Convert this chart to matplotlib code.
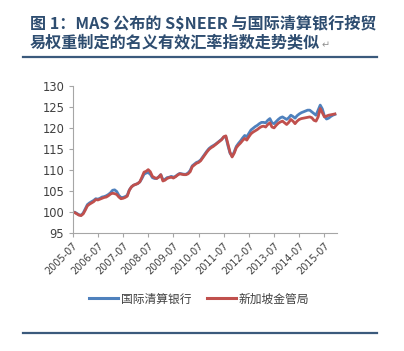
import matplotlib
matplotlib.use("Agg")
import matplotlib.pyplot as plt
from matplotlib.lines import Line2D
import numpy as np

plt.rcParams['font.family'] = ['Noto Sans CJK SC', 'DejaVu Sans']

tick_labels = ["2005-07", "2006-07", "2007-07", "2008-07", "2009-07", "2010-07",
               "2011-07", "2012-07", "2013-07", "2014-07", "2015-07"]

bis = [100.0, 100.0, 99.7, 99.4, 99.3, 99.8, 100.8, 101.8, 102.2, 102.5, 102.8, 103.2,
       103.1, 103.3, 103.6, 103.7, 103.9, 104.2, 104.6, 105.2, 105.3, 104.9, 104.0, 103.5,
       103.5, 103.7, 104.0, 105.3, 106.0, 106.4, 106.6, 106.8, 107.2, 108.0, 109.0, 109.3,
       109.4, 109.0, 108.2, 108.0, 108.0, 108.4, 108.9, 107.7, 107.8, 108.2, 108.3, 108.5,
       108.3, 108.5, 108.9, 109.2, 109.1, 109.0, 109.0, 109.3, 109.9, 111.0, 111.4, 111.8,
       112.0, 112.4, 113.1, 113.8, 114.5, 115.1, 115.5, 115.8, 116.1, 116.5, 116.9, 117.3,
       117.8, 117.9, 115.8, 114.0, 113.3, 114.3, 115.6, 116.3, 116.9, 117.6, 118.2, 117.9,
       118.7, 119.5, 119.9, 120.3, 120.6, 121.0, 121.3, 121.3, 121.2, 121.8, 122.2, 121.2,
       121.0, 121.5, 122.0, 122.4, 122.6, 122.3, 122.0, 122.4, 123.0, 122.7, 122.3, 122.9,
       123.3, 123.6, 123.8, 124.0, 124.2, 124.2, 123.8, 123.4, 123.0, 124.2, 125.4, 124.5,
       122.8, 122.1, 122.3, 122.7, 123.0, 123.2]

mas = [100.0, 99.9, 99.6, 99.3, 99.2, 99.6, 100.5, 101.5, 101.9, 102.2, 102.5, 103.0,
       102.9, 103.1, 103.3, 103.5, 103.6, 103.9, 104.3, 104.5, 104.4, 104.2, 103.6, 103.2,
       103.3, 103.5, 103.8, 105.2, 106.0, 106.4, 106.6, 106.8, 107.2, 108.3, 109.5, 109.7,
       110.1, 109.6, 108.5, 108.2, 108.0, 108.3, 108.9, 107.4, 107.6, 108.0, 108.2, 108.3,
       108.1, 108.4, 108.8, 109.1, 109.0, 108.9, 108.9, 109.1, 109.6, 110.8, 111.2, 111.6,
       111.8, 112.2, 112.9, 113.6, 114.3, 114.9, 115.3, 115.6, 116.0, 116.4, 116.8, 117.2,
       117.9, 118.1, 116.2, 114.2, 113.1, 114.0, 115.3, 115.9, 116.4, 117.0, 117.5, 117.1,
       117.9, 118.6, 119.0, 119.3, 119.6, 120.0, 120.3, 120.4, 120.2, 120.8, 121.2, 120.2,
       120.0, 120.6, 121.1, 121.4, 121.6, 121.2, 120.8, 121.3, 122.0, 121.6, 121.0, 121.6,
       122.0, 122.2, 122.3, 122.4, 122.5, 122.6, 122.4, 121.8, 121.6, 122.6, 124.6, 123.6,
       122.6, 122.8, 123.0, 123.1, 123.2, 123.3]

series_names = ["国际清算银行", "新加坡金管局"]
title_line1 = "图 1：MAS 公布的 S$NEER 与国际清算银行按贸"
title_line2 = "易权重制定的名义有效汇率指数走势类似"

W, H = 404, 351
fig = plt.figure(figsize=(W / 100, H / 100), dpi=100)
fig.patch.set_facecolor("white")

ax = fig.add_axes([72.7 / W, 1 - 233.3 / H, (337 - 72.7) / W, (233.3 - 85.7) / H])
x = np.arange(len(bis))
c_blue = "#4f81bd"
c_red = "#c0504d"
ax.plot(x, bis, color=c_blue, lw=2.0, solid_joinstyle="round")
ax.plot(x, mas, color=c_red, lw=2.0, solid_joinstyle="round")

ax.set_xlim(0, 126)
ax.set_ylim(95, 130)
ax.set_yticks(np.arange(95, 131, 5))
ax.set_xticks(np.arange(0, 121, 12))
ax.set_xticklabels(tick_labels, rotation=45, ha="right", rotation_mode="anchor",
                   fontsize=7, color="#404040", family=["DejaVu Sans"])
for lab in ax.get_yticklabels():
    lab.set_fontsize(8.3)
    lab.set_color("#404040")
    lab.set_family(["DejaVu Sans"])
for s in ["top", "right"]:
    ax.spines[s].set_visible(False)
for s in ["left", "bottom"]:
    ax.spines[s].set_color("#a6a6a6")
    ax.spines[s].set_linewidth(0.8)
ax.tick_params(axis="both", direction="out", length=3, color="#a6a6a6", width=0.8)
ax.tick_params(axis="y", pad=3)
ax.tick_params(axis="x", pad=2)

handles = [Line2D([0], [0], color=c_blue, lw=2.2), Line2D([0], [0], color=c_red, lw=2.2)]
fig.legend(handles, series_names, loc="center", bbox_to_anchor=(199 / W, 1 - 299 / H),
           ncol=2, frameon=False, fontsize=8.5, handlelength=2.5, handletextpad=0.2,
           columnspacing=1.3, labelcolor="#404040")

title_color = "#2e4d70"
fig.text(30 / W, 1 - 24 / H, title_line1, fontsize=11.6, fontweight="bold",
         color=title_color, va="center", ha="left")
t2 = fig.text(30 / W, 1 - 43 / H, title_line2, fontsize=11.6, fontweight="bold",
              color=title_color, va="center", ha="left")
fig.canvas.draw()
bb = t2.get_window_extent(renderer=fig.canvas.get_renderer())
fig.text((bb.x1 + 1) / W, 1 - 45 / H, "↵", fontsize=7, color="#909090", va="center",
         ha="left", family=["DejaVu Sans"])

fig.add_artist(Line2D([23 / W, 377 / W], [1 - 57 / H, 1 - 57 / H], color="#3b5a7c", lw=1.6))
fig.add_artist(Line2D([23 / W, 377 / W], [1 - 332.5 / H, 1 - 332.5 / H], color="#3b5a7c", lw=1.6))

fig.savefig("out.png", dpi=100)
